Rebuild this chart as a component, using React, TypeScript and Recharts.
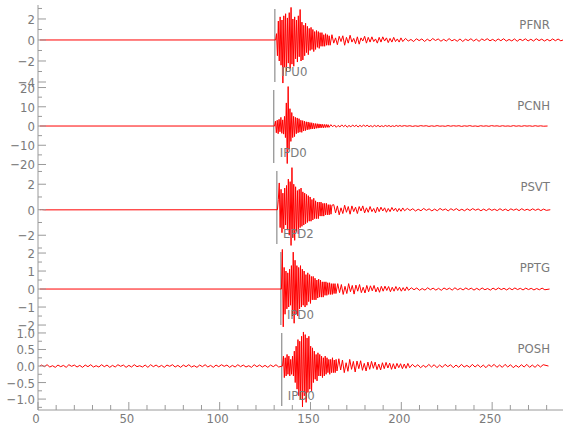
import { LineChart, Line, XAxis, YAxis, ReferenceLine } from "recharts";

const FRAME = "#9a9a9a";
const TEXT = "#7a7a7a";
const FONT = "'Liberation Sans Narrow', 'DejaVu Sans Condensed', 'Liberation Sans', sans-serif";

const stations = ["PFNR", "PCNH", "PSVT", "PPTG", "POSH"];
const pickNames = ["IPU0", "IPD0", "EPD2", "IPD0", "IPD0"];
const pickTimes = [130.4, 129.8, 131.5, 133.7, 134.2];
const onsets = [130.8, 130.2, 131.8, 134.0, 134.6];
const traceEnds = [289, 280.5, 282, 281.6, 281];
const panelTops = [5, 86, 167, 248, 329];

const xTicks = [0, 10, 20, 30, 40, 50, 60, 70, 80, 90, 100, 110, 120, 130, 140, 150, 160, 170, 180, 190, 200, 210, 220, 230, 240, 250, 260, 270, 280];
const xLabels = [0, 50, 100, 150, 200, 250];

const yDomains = [
  [-4.38, 3.33],
  [-21.3, 20.8],
  [-3.0, 3.35],
  [-2.22, 2.28],
  [-1.33, 1.12],
];
const yTicks = [
  [-4, -3, -2, -1, 0, 1, 2, 3],
  [-20, -15, -10, -5, 0, 5, 10, 15, 20],
  [-3, -2, -1, 0, 1, 2, 3],
  [-2, -1.5, -1, -0.5, 0, 0.5, 1, 1.5, 2],
  [-1.25, -1, -0.75, -0.5, -0.25, 0, 0.25, 0.5, 0.75, 1],
];
const yLabels = [
  [-4, -2, 0, 2],
  [-20, -10, 0, 10, 20],
  [-2, 0, 2],
  [-2, -1, 0, 1, 2],
  [-1, -0.5, 0, 0.5, 1],
];
const yDecimals = [0, 0, 0, 0, 1];

// amplitudes: pre-onset every 1.5 s, burst every 0.5 s after onset, coda every 1 s, tail every 1.5 s
const pfnrPre: number[] = [];
const pfnrBurst = [0.6, -1.5, 1.8, -2.0, 2.2, -2.4, 1.9, -4.1, 2.3, -2.6, 2.5, -3.0, 2.1, -2.2, 2.6, -2.7, 3.1, -2.3, 2.0, -2.5, 2.2, -1.8, 1.9, -2.1, 2.3, -1.6, 2.9, -2.0, 1.7, -1.9, 1.4, -1.5, 1.6, -1.2, 1.3, -1.4, 1.1, -1.0, 1.2, -0.9, 1.0, -1.1, 0.8, -0.9, 0.9, -0.7, 0.8, -0.8, 0.7, -0.6, 0.7, -0.6, 0.5, -0.6, 0.6, -0.5, 0.5, -0.5, 0.4, -0.5];
const pfnrCoda = [0.5, -0.3, 0.2, -0.45, 0.35, -0.15, 0.4, -0.5, 0.25, -0.3, 0.45, -0.2, 0.15, -0.35, 0.3, -0.4, 0.2, -0.1, 0.35, -0.3, 0.25, -0.2, 0.3, -0.15, 0.1, -0.3, 0.25, -0.2, 0.3, -0.1, 0.2, -0.25, 0.15, -0.2, 0.25, -0.15, 0.1, -0.2, 0.2, -0.15];
const pfnrTail = [0.15, -0.1, 0.05, -0.15, 0.12, -0.06, 0.1, -0.14, 0.08, -0.1, 0.14, -0.05, 0.1, -0.12, 0.06, -0.1, 0.13, -0.08, 0.05, -0.12, 0.1, -0.14, 0.07, -0.06, 0.12, -0.1, 0.08, -0.13, 0.1, -0.05, 0.12, -0.08, 0.06, -0.11, 0.1, -0.07, 0.12, -0.1, 0.05, -0.09, 0.1, -0.12, 0.08, -0.06, 0.11, -0.09, 0.07, -0.1, 0.12, -0.06, 0.08, -0.1, 0.06, -0.09, 0.1, -0.07, 0.09, -0.08];

const pcnhPre: number[] = [];
const pcnhBurst = [2.5, -3.5, 3.0, -4.0, 3.5, -3.0, 4.5, -3.8, 3.2, -4.2, 5.0, -6.0, 12, -19.5, 20.5, -12, 9, -8, 7, -6, 5, -5.5, 4.5, -4, 4.2, -3.5, 3.8, -3.2, 3.0, -3.3, 2.8, -2.6, 2.5, -2.4, 2.2, -2.0, 2.1, -1.8, 1.8, -1.6, 1.7, -1.5, 1.4, -1.5, 1.3, -1.2, 1.2, -1.1, 1.1, -1.0, 1.0, -0.9, 0.9, -0.9, 0.8, -0.8, 0.8, -0.7, 0.7, -0.7];
const pcnhCoda = [0.7, -0.4, 0.55, -0.65, 0.3, -0.5, 0.6, -0.35, 0.45, -0.6, 0.3, -0.45, 0.5, -0.25, 0.4, -0.5, 0.35, -0.3, 0.45, -0.2, 0.4, -0.35, 0.2, -0.4, 0.35, -0.25, 0.3, -0.35, 0.15, -0.3, 0.3, -0.2, 0.25, -0.3, 0.15, -0.25, 0.3, -0.2, 0.25, -0.15];
const pcnhTail = [0.2, -0.1, 0.15, -0.2, 0.1, -0.15, 0.2, -0.05, 0.15, -0.2, 0.1, -0.15, 0.2, -0.1, 0.05, -0.15, 0.2, -0.1, 0.15, -0.05, 0.15, -0.2, 0.1, -0.1, 0.2, -0.15, 0.05, -0.2, 0.15, -0.1, 0.1, -0.15, 0.2, -0.05, 0.1, -0.15, 0.15, -0.1, 0.05, -0.15, 0.2, -0.1, 0.1, -0.15, 0.15, -0.05, 0.1, -0.15, 0.15, -0.1, 0.1, -0.1];

const psvtPre = [0.01, -0.01];
const psvtBurst = [0.8, 2.1, -1.4, 1.6, -1.8, 1.3, -1.5, 1.7, -1.2, 1.9, -1.6, 2.4, -2.0, 2.2, -2.8, 3.3, -2.2, 2.0, -2.4, 1.8, -1.7, 1.5, -1.9, 1.6, -1.4, 1.7, -1.3, 1.4, -1.2, 1.3, -1.1, 1.2, -1.0, 1.1, -0.9, 1.0, -0.9, 0.8, -0.8, 0.9, -0.7, 0.7, -0.7, 0.6, -0.7, 0.6, -0.5, 0.6, -0.5, 0.5, -0.5, 0.5, -0.4, 0.5, -0.4, 0.4, -0.4, 0.4, -0.35, 0.35];
const psvtCoda = [0.4, -0.25, 0.3, -0.4, 0.15, -0.3, 0.35, -0.2, 0.25, -0.35, 0.3, -0.15, 0.2, -0.3, 0.25, -0.1, 0.3, -0.25, 0.15, -0.2, 0.25, -0.15, 0.1, -0.25, 0.2, -0.15, 0.2, -0.1, 0.15, -0.2, 0.1, -0.15, 0.18, -0.08, 0.12, -0.15, 0.1, -0.12, 0.14, -0.08];
const psvtTail = [0.1, -0.06, 0.08, -0.1, 0.04, -0.08, 0.1, -0.05, 0.07, -0.09, 0.05, -0.08, 0.1, -0.04, 0.06, -0.09, 0.08, -0.05, 0.09, -0.07, 0.04, -0.08, 0.07, -0.06, 0.09, -0.04, 0.06, -0.08, 0.05, -0.07, 0.08, -0.05, 0.04, -0.07, 0.08, -0.06, 0.05, -0.08, 0.07, -0.04, 0.06, -0.07, 0.08, -0.05, 0.04, -0.06, 0.07, -0.05, 0.06, -0.07, 0.05, -0.05];

const pptgPre: number[] = [];
const pptgBurst = [2.2, -2.1, 1.2, -1.4, 1.0, -1.1, 0.9, -1.0, 1.1, -0.9, 1.3, -1.5, 2.05, -1.9, 1.6, -1.4, 1.3, -1.5, 1.2, -1.1, 1.3, -1.0, 1.1, -0.9, 1.0, -1.0, 0.8, -0.9, 0.9, -0.7, 0.8, -0.8, 0.7, -0.6, 0.7, -0.6, 0.6, -0.6, 0.5, -0.5, 0.55, -0.45, 0.5, -0.45, 0.4, -0.45, 0.4, -0.35, 0.4, -0.35, 0.35, -0.3, 0.35, -0.3, 0.3, -0.3, 0.3, -0.25, 0.3, -0.25];
const pptgCoda = [0.3, -0.2, 0.25, -0.3, 0.15, -0.25, 0.3, -0.15, 0.2, -0.28, 0.22, -0.12, 0.25, -0.2, 0.1, -0.22, 0.2, -0.15, 0.18, -0.1, 0.2, -0.16, 0.1, -0.18, 0.15, -0.12, 0.16, -0.08, 0.14, -0.15, 0.1, -0.12, 0.14, -0.08, 0.1, -0.12, 0.08, -0.1, 0.12, -0.07];
const pptgTail = [0.07, -0.04, 0.06, -0.07, 0.03, -0.06, 0.07, -0.04, 0.05, -0.06, 0.04, -0.07, 0.06, -0.03, 0.05, -0.06, 0.07, -0.04, 0.04, -0.05, 0.06, -0.03, 0.05, -0.06, 0.04, -0.05, 0.06, -0.04, 0.03, -0.06, 0.05, -0.04, 0.06, -0.03, 0.04, -0.05, 0.05, -0.04, 0.06, -0.03, 0.04, -0.05, 0.05, -0.03, 0.04, -0.05, 0.03, -0.04, 0.05, -0.04];

const poshPre = [0.03, -0.02, 0.04, -0.03, 0.01, -0.04, 0.03, -0.02, 0.02, -0.04, 0.04, -0.01, 0.03, -0.03, 0.02, -0.04, 0.03, -0.02, 0.04, -0.03, 0.01, -0.03, 0.04, -0.02, 0.03, -0.04, 0.02, -0.03, 0.04, -0.01, 0.03, -0.04, 0.02, -0.03, 0.04, -0.02, 0.01, -0.03, 0.03, -0.04, 0.04, -0.02, 0.03, -0.03, 0.02, -0.04, 0.03, -0.01, 0.04, -0.03, 0.02, -0.04, 0.03, -0.02, 0.04, -0.03, 0.01, -0.04, 0.03, -0.02, 0.04, -0.03, 0.02, -0.04, 0.03, -0.02, 0.04, -0.01, 0.03, -0.04, 0.02, -0.03, 0.04, -0.02, 0.03, -0.03, 0.01, -0.04, 0.04, -0.02, 0.03, -0.03, 0.02, -0.04, 0.03, -0.02, 0.04, -0.03];
const poshBurst = [0.3, -0.35, 0.25, -0.3, 0.35, -0.25, 0.3, -0.3, 0.2, -0.25, 0.3, -0.3, 0.45, -0.5, 0.6, -0.7, 0.8, -0.9, 0.75, -1.0, 0.9, -1.24, 1.03, -0.9, 0.95, -1.1, 0.85, -0.8, 0.9, -0.7, 0.6, -0.75, 0.55, -0.5, 0.45, -0.4, 0.35, -0.45, 0.4, -0.3, 0.35, -0.3, 0.3, -0.35, 0.25, -0.3, 0.3, -0.25, 0.25, -0.2, 0.2, -0.25, 0.2, -0.2, 0.25, -0.2, 0.18, -0.2, 0.2, -0.15];
const poshCoda = [0.22, -0.12, 0.18, -0.2, 0.1, -0.16, 0.2, -0.1, 0.14, -0.18, 0.15, -0.08, 0.16, -0.13, 0.08, -0.15, 0.12, -0.1, 0.14, -0.07, 0.12, -0.11, 0.06, -0.12, 0.1, -0.08, 0.11, -0.06, 0.09, -0.1, 0.07, -0.09, 0.08, -0.05, 0.07, -0.08, 0.06, -0.07, 0.08, -0.05];
const poshTail = [0.05, -0.03, 0.04, -0.05, 0.02, -0.04, 0.05, -0.03, 0.04, -0.05, 0.03, -0.04, 0.05, -0.02, 0.04, -0.05, 0.03, -0.04, 0.05, -0.03, 0.02, -0.04, 0.05, -0.03, 0.04, -0.04, 0.03, -0.05, 0.04, -0.02, 0.05, -0.04, 0.03, -0.04, 0.05, -0.03, 0.04, -0.05, 0.02, -0.04, 0.04, -0.03, 0.05, -0.04, 0.03, -0.04, 0.04, -0.03, 0.04];

const pres = [pfnrPre, pcnhPre, psvtPre, pptgPre, poshPre];
const bursts = [pfnrBurst, pcnhBurst, psvtBurst, pptgBurst, poshBurst];
const codas = [pfnrCoda, pcnhCoda, psvtCoda, pptgCoda, poshCoda];
const tails = [pfnrTail, pcnhTail, psvtTail, pptgTail, poshTail];

function buildTrace(k: number) {
  const t0 = onsets[k];
  const rows: { t: number; v: number }[] = [{ t: 1, v: 0 }];
  pres[k].forEach((v, i) => rows.push({ t: 2 + 1.5 * i, v }));
  rows.push({ t: t0, v: 0 });
  bursts[k].forEach((v, i) => rows.push({ t: t0 + 0.5 * (i + 1), v }));
  codas[k].forEach((v, i) => rows.push({ t: t0 + 31 + i, v }));
  tails[k].forEach((v, i) => rows.push({ t: t0 + 71.5 + 1.5 * i, v }));
  rows.push({ t: traceEnds[k], v: 0 });
  return rows;
}

const fmtY = (v: number, d: number) => (v < 0 ? "\u2212" : "") + Math.abs(v).toFixed(d);

function Panel({ k }: { k: number }) {
  const last = k === stations.length - 1;
  const [ymin, ymax] = yDomains[k];
  const inset = ((ymax - ymin) * 4) / 81;
  const labels = yLabels[k];
  return (
    <LineChart
      width={580}
      height={last ? 103 : 81}
      data={buildTrace(k)}
      margin={{ top: 0, right: 17, bottom: 0, left: 0 }}
    >
      <XAxis
        xAxisId="top"
        orientation="top"
        type="number"
        dataKey="t"
        domain={[0, 289]}
        ticks={xTicks}
        interval={0}
        height={0}
        tickSize={0}
        tickMargin={0}
        stroke={FRAME}
        tick={(p: any) => (
          <line x1={p.x} x2={p.x} y1={p.y} y2={p.y + (p.payload.value % 50 === 0 ? 8 : 4)} stroke={FRAME} />
        )}
      />
      {last && (
        <XAxis
          xAxisId="bot"
          orientation="bottom"
          type="number"
          dataKey="t"
          domain={[0, 289]}
          ticks={xTicks}
          interval={0}
          height={22}
          tickSize={0}
          tickMargin={0}
          stroke={FRAME}
          tick={(p: any) => {
            const major = xLabels.includes(p.payload.value);
            return (
              <g>
                <line x1={p.x} x2={p.x} y1={p.y} y2={p.y - (major ? 8 : 5)} stroke={FRAME} />
                {major && (
                  <text x={p.x - 2} y={p.y + 13} textAnchor="middle" fontSize={13} fill={TEXT} fontFamily={FONT}>
                    {p.payload.value}
                  </text>
                )}
              </g>
            );
          }}
        />
      )}
      <YAxis
        yAxisId="l"
        orientation="left"
        type="number"
        domain={yDomains[k]}
        ticks={yTicks[k]}
        interval={0}
        width={38}
        tickSize={0}
        tickMargin={0}
        stroke={FRAME}
        tick={(p: any) => {
          const major = labels.includes(p.payload.value);
          return (
            <g>
              <line x1={p.x} x2={p.x + (major ? 8 : 4)} y1={p.y} y2={p.y} stroke={FRAME} />
              {major && (
                <text x={p.x - 3} y={p.y + 5} textAnchor="end" fontSize={13} fill={TEXT} fontFamily={FONT}>
                  {fmtY(p.payload.value, yDecimals[k])}
                </text>
              )}
            </g>
          );
        }}
      />
      <YAxis
        yAxisId="r"
        orientation="right"
        type="number"
        domain={yDomains[k]}
        ticks={yTicks[k]}
        interval={0}
        width={0}
        tickSize={0}
        tickMargin={0}
        stroke={FRAME}
        tick={(p: any) => (
          <line x1={p.x} x2={p.x - (labels.includes(p.payload.value) ? 7 : 4)} y1={p.y} y2={p.y} stroke={FRAME} />
        )}
      />
      <ReferenceLine
        xAxisId="top"
        yAxisId="l"
        segment={[
          { x: pickTimes[k], y: ymax - inset },
          { x: pickTimes[k], y: ymin + inset },
        ]}
        stroke="#777"
        label={{ value: pickNames[k], position: "insideBottomLeft", offset: 6, fill: TEXT, fontSize: 13, fontFamily: FONT }}
      />
      <Line
        xAxisId="top"
        yAxisId="l"
        type="linear"
        dataKey="v"
        stroke="#ff0000"
        strokeWidth={1}
        dot={false}
        activeDot={false}
        isAnimationActive={false}
      />
    </LineChart>
  );
}

export default function App() {
  return (
    <div style={{ position: "absolute", left: 0, top: 0, width: 580, height: 440, background: "#fff", fontFamily: FONT }}>
      <style>{`svg.recharts-surface { overflow: visible; }`}</style>
      {stations.map((s, k) => (
        <div key={s} style={{ position: "absolute", left: 0, top: panelTops[k] }}>
          <Panel k={k} />
        </div>
      ))}
      {stations.map((s, k) => (
        <div
          key={s + "-name"}
          style={{
            position: "absolute",
            right: 30,
            top: panelTops[k] + 13,
            fontSize: 13,
            lineHeight: "14px",
            color: TEXT,
          }}
        >
          {s}
        </div>
      ))}
    </div>
  );
}
